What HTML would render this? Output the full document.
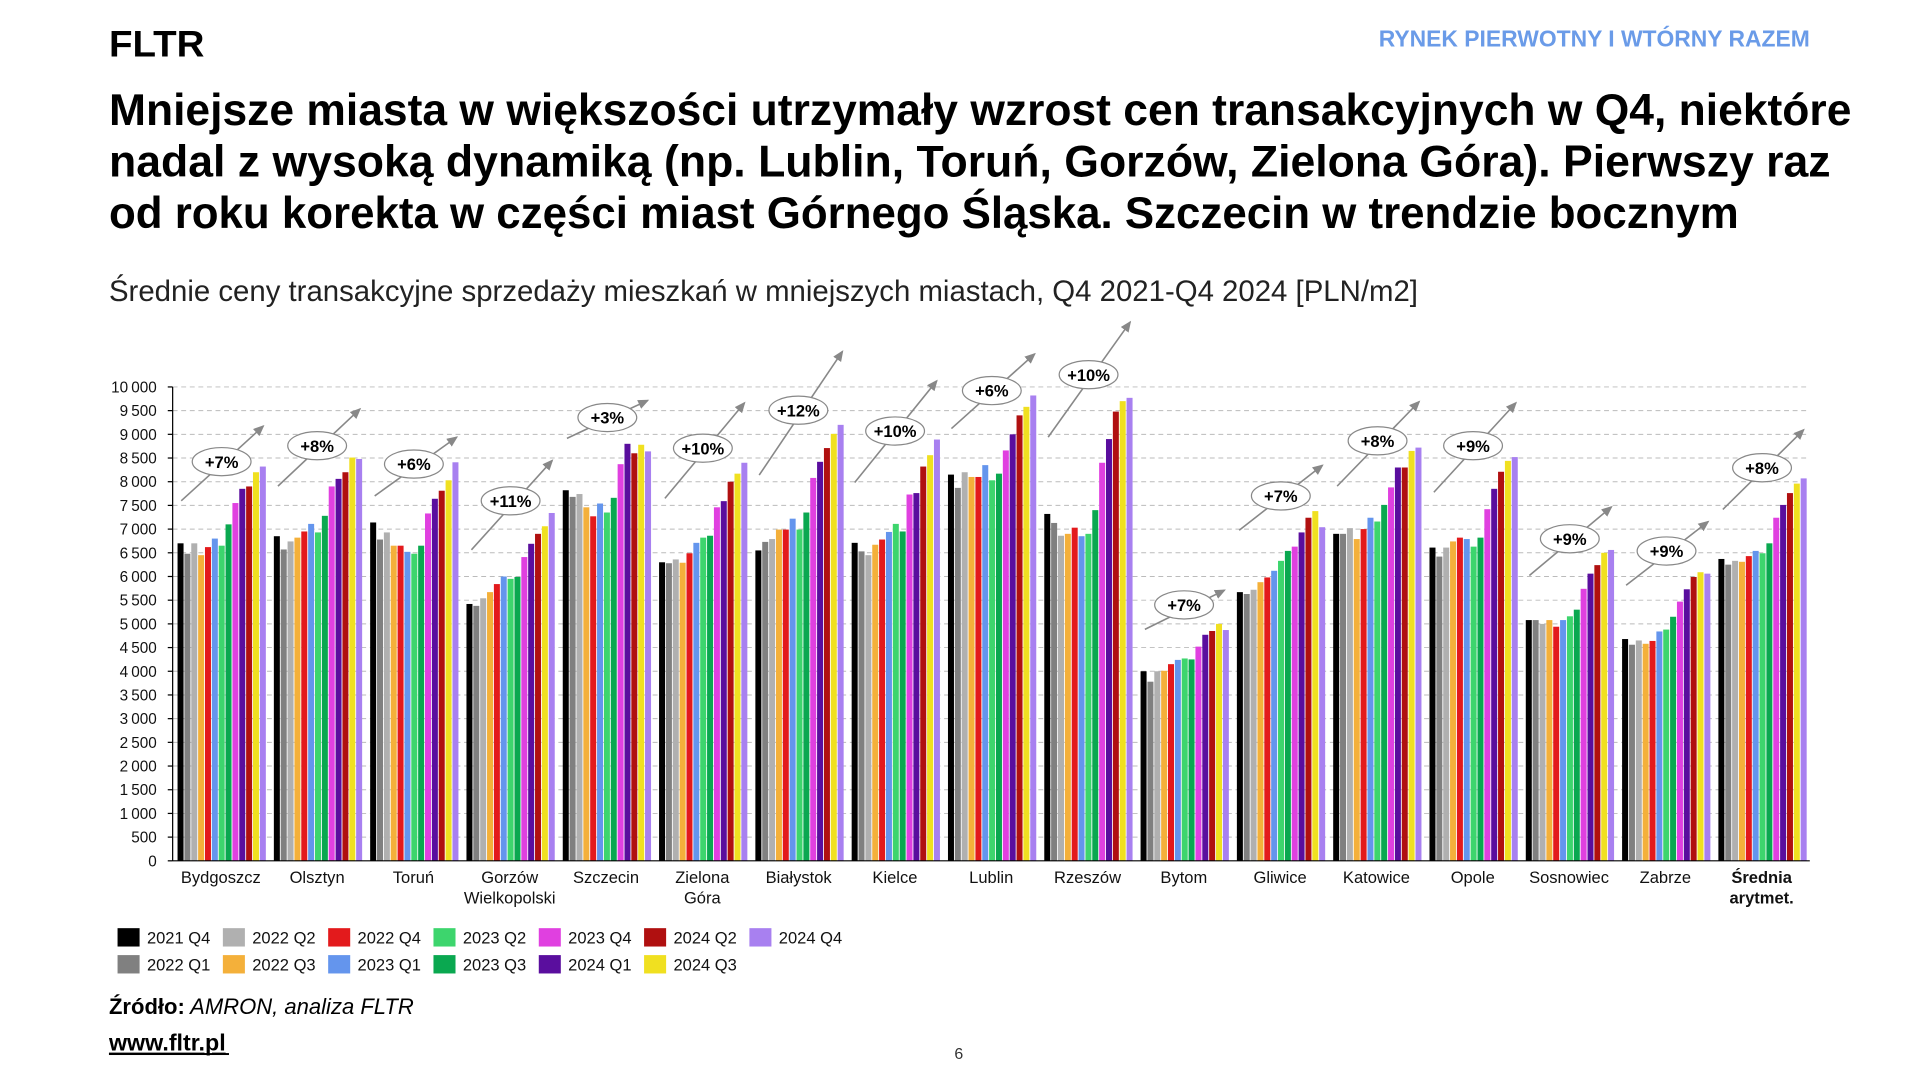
<!DOCTYPE html>
<html><head><meta charset="utf-8"><style>
html,body{margin:0;padding:0;background:#fff;}
svg{display:block;}
text{font-family:"Liberation Sans",sans-serif;}
</style></head><body>
<svg id="s" width="1920" height="1080" viewBox="0 0 1568 882" xmlns="http://www.w3.org/2000/svg">
<rect width="1568" height="882" fill="#fff"/>
<text x="89" y="46" font-size="30" font-weight="bold" fill="#000" textLength="78" lengthAdjust="spacingAndGlyphs">FLTR</text>
<text x="1478" y="38" font-size="19" font-weight="bold" fill="#6a9be8" text-anchor="end" textLength="352" lengthAdjust="spacingAndGlyphs">RYNEK PIERWOTNY I WTÓRNY RAZEM</text>
<text x="89" y="102" font-size="36" font-weight="bold" fill="#000" textLength="1423" lengthAdjust="spacingAndGlyphs">Mniejsze miasta w większości utrzymały wzrost cen transakcyjnych w Q4, niektóre</text>
<text x="89" y="144" font-size="36" font-weight="bold" fill="#000" textLength="1406" lengthAdjust="spacingAndGlyphs">nadal z wysoką dynamiką (np. Lublin, Toruń, Gorzów, Zielona Góra). Pierwszy raz</text>
<text x="89" y="186" font-size="36" font-weight="bold" fill="#000" textLength="1331" lengthAdjust="spacingAndGlyphs">od roku korekta w części miast Górnego Śląska. Szczecin w trendzie bocznym</text>
<text x="89" y="246" font-size="24" fill="#222" textLength="1069" lengthAdjust="spacingAndGlyphs">Średnie ceny transakcyjne sprzedaży mieszkań w mniejszych miastach, Q4 2021-Q4 2024 [PLN/m2]</text>
<g id="chart"></g>
<text x="89" y="828" font-size="18" fill="#000"><tspan font-weight="bold">Źródło:</tspan><tspan font-style="italic"> AMRON, analiza FLTR</tspan></text>
<text x="89" y="858" font-size="19" font-weight="bold" fill="#000" text-decoration="underline">www.fltr.pl</text>
<rect x="89" y="860" width="98" height="1.6" fill="#000"/>
<text x="783" y="865" font-size="13" fill="#333" text-anchor="middle">6</text>
</svg>
<script>
var NS="http://www.w3.org/2000/svg",g=document.getElementById("chart");
function el(t,a,txt){var e=document.createElementNS(NS,t);for(var k in a)e.setAttribute(k,a[k]);if(txt!=null)e.textContent=txt;g.appendChild(e);return e;}
var y0=703,ppu=387/10000,x0=141,x1=1478;
for(var v=0;v<=10000;v+=500){var y=y0-v*ppu;
 if(v>0)el("line",{x1:x0,x2:x1,y1:y,y2:y,stroke:"#bbb","stroke-width":0.8,"stroke-dasharray":"4,3"});
 el("line",{x1:x0-4,x2:x0,y1:y,y2:y,stroke:"#000","stroke-width":1});
 el("text",{x:128,y:y+4.5,"font-size":12.5,"text-anchor":"end",fill:"#111"},v==0?"0":(Math.floor(v/1000)>0?Math.floor(v/1000)+"\u2009"+String(v%1000).padStart(3,"0"):String(v)));
}
var cols=["#000000","#808080","#b0b0b0","#f4b03a","#e31a1c","#6495ed","#3dd56d","#0aa850","#e040e0","#5a0e9e","#b01010","#f0e020","#a880f0"];
var names=["2021 Q4","2022 Q1","2022 Q2","2022 Q3","2022 Q4","2023 Q1","2023 Q2","2023 Q3","2023 Q4","2024 Q1","2024 Q2","2024 Q3","2024 Q4"];
var D=[
["Bydgoszcz",[6700,6480,6700,6450,6620,6800,6650,7100,7550,7850,7900,8200,8320],"+7%",[181,377],[148,409,215,348]],
["Olsztyn",[6850,6570,6740,6820,6950,7110,6930,7280,7900,8060,8200,8510,8480],"+8%",[259,364],[227,397,294,334]],
["Toruń",[7140,6780,6930,6650,6650,6520,6480,6650,7330,7640,7810,8030,8410],"+6%",[338,379],[306,405,373,357]],
["Gorzów|Wielkopolski",[5420,5380,5540,5670,5840,6000,5950,5990,6410,6690,6900,7060,7340],"+11%",[417,409],[385,449,451,376]],
["Szczecin",[7820,7680,7740,7460,7270,7540,7350,7660,8370,8800,8600,8780,8640],"+3%",[496,341],[463,358,529,327]],
["Zielona|Góra",[6300,6280,6360,6290,6490,6710,6820,6860,7460,7590,8000,8170,8400],"+10%",[574,366],[543,407,608,329]],
["Białystok",[6550,6730,6790,6990,6990,7220,6990,7350,8080,8420,8710,9010,9200],"+12%",[652,335],[620,388,688,287]],
["Kielce",[6710,6530,6450,6670,6780,6940,7110,6950,7730,7760,8320,8560,8890],"+10%",[731,352],[698,394,765,311]],
["Lublin",[8150,7870,8200,8100,8100,8350,8030,8170,8660,9000,9400,9580,9820],"+6%",[810,319],[777,350,845,289]],
["Rzeszów",[7320,7130,6860,6900,7030,6850,6900,7400,8400,8900,9480,9700,9770],"+10%",[889,306],[856,357,923,263]],
["Bytom",[4000,3780,4000,4010,4150,4240,4270,4250,4520,4770,4850,5000,4870],"+7%",[967,494],[935,514,1000,482]],
["Gliwice",[5670,5630,5720,5880,5980,6120,6330,6540,6630,6930,7240,7380,7040],"+7%",[1046,405],[1012,433,1080,380]],
["Katowice",[6900,6900,7020,6790,7000,7240,7160,7510,7880,8300,8300,8650,8720],"+8%",[1125,360],[1092,397,1159,328]],
["Opole",[6610,6420,6610,6740,6820,6790,6630,6820,7420,7850,8210,8440,8520],"+9%",[1203,364],[1171,402,1238,329]],
["Sosnowiec",[5080,5080,5000,5080,4940,5080,5160,5300,5740,6060,6240,6500,6560],"+9%",[1282,440],[1249,470,1316,414]],
["Zabrze",[4680,4560,4650,4580,4640,4840,4880,5150,5470,5730,5990,6090,6060],"+9%",[1361,450],[1328,478,1395,426]],
["Średnia|arytmet.",[6370,6250,6330,6310,6430,6540,6490,6700,7240,7510,7760,7960,8070],"+8%",[1439,382],[1407,416,1473,351]]
];
var gw=(x1-x0)/17;
el("defs",{}).innerHTML='<marker id="ah" markerWidth="8" markerHeight="8" refX="6" refY="3" orient="auto"><path d="M0,0 L7,3 L0,6 z" fill="#888"/></marker>';
D.forEach(function(d,i){
 var gx=x0+i*gw+4;
 d[1].forEach(function(v,j){var h=v*ppu;el("rect",{x:gx+j*5.6,y:y0-h,width:4.9,height:h,fill:cols[j]});});
 var cx=x0+i*gw+gw/2,parts=d[0].split("|"),bold=i==16;
 parts.forEach(function(p,k){el("text",{x:cx,y:721+k*17,"font-size":13.5,"text-anchor":"middle",fill:"#111","font-weight":bold?"bold":"normal"},p);});
 var a=d[4];el("line",{x1:a[0],y1:a[1],x2:a[2],y2:a[3],stroke:"#888","stroke-width":1.3,"marker-end":"url(#ah)"});
 el("ellipse",{cx:d[3][0],cy:d[3][1],rx:24,ry:11.5,fill:"#fff",stroke:"#888","stroke-width":1});
 el("text",{x:d[3][0],y:d[3][1]+5,"font-size":13.5,"font-weight":"bold","text-anchor":"middle",fill:"#000"},d[2]);
});
el("line",{x1:x0,x2:x0,y1:316,y2:y0,stroke:"#000","stroke-width":1});
el("line",{x1:x0,x2:x1,y1:y0,y2:y0,stroke:"#000","stroke-width":1});
for(var k=0;k<13;k++){var c=Math.floor(k/2),r=k%2,lx=96+c*86,ly=758+r*22;
 el("rect",{x:lx,y:ly,width:18,height:15,fill:cols[k]});
 el("text",{x:lx+24,y:ly+12.5,"font-size":13.5,fill:"#111"},names[k]);}
</script>
</body></html>
